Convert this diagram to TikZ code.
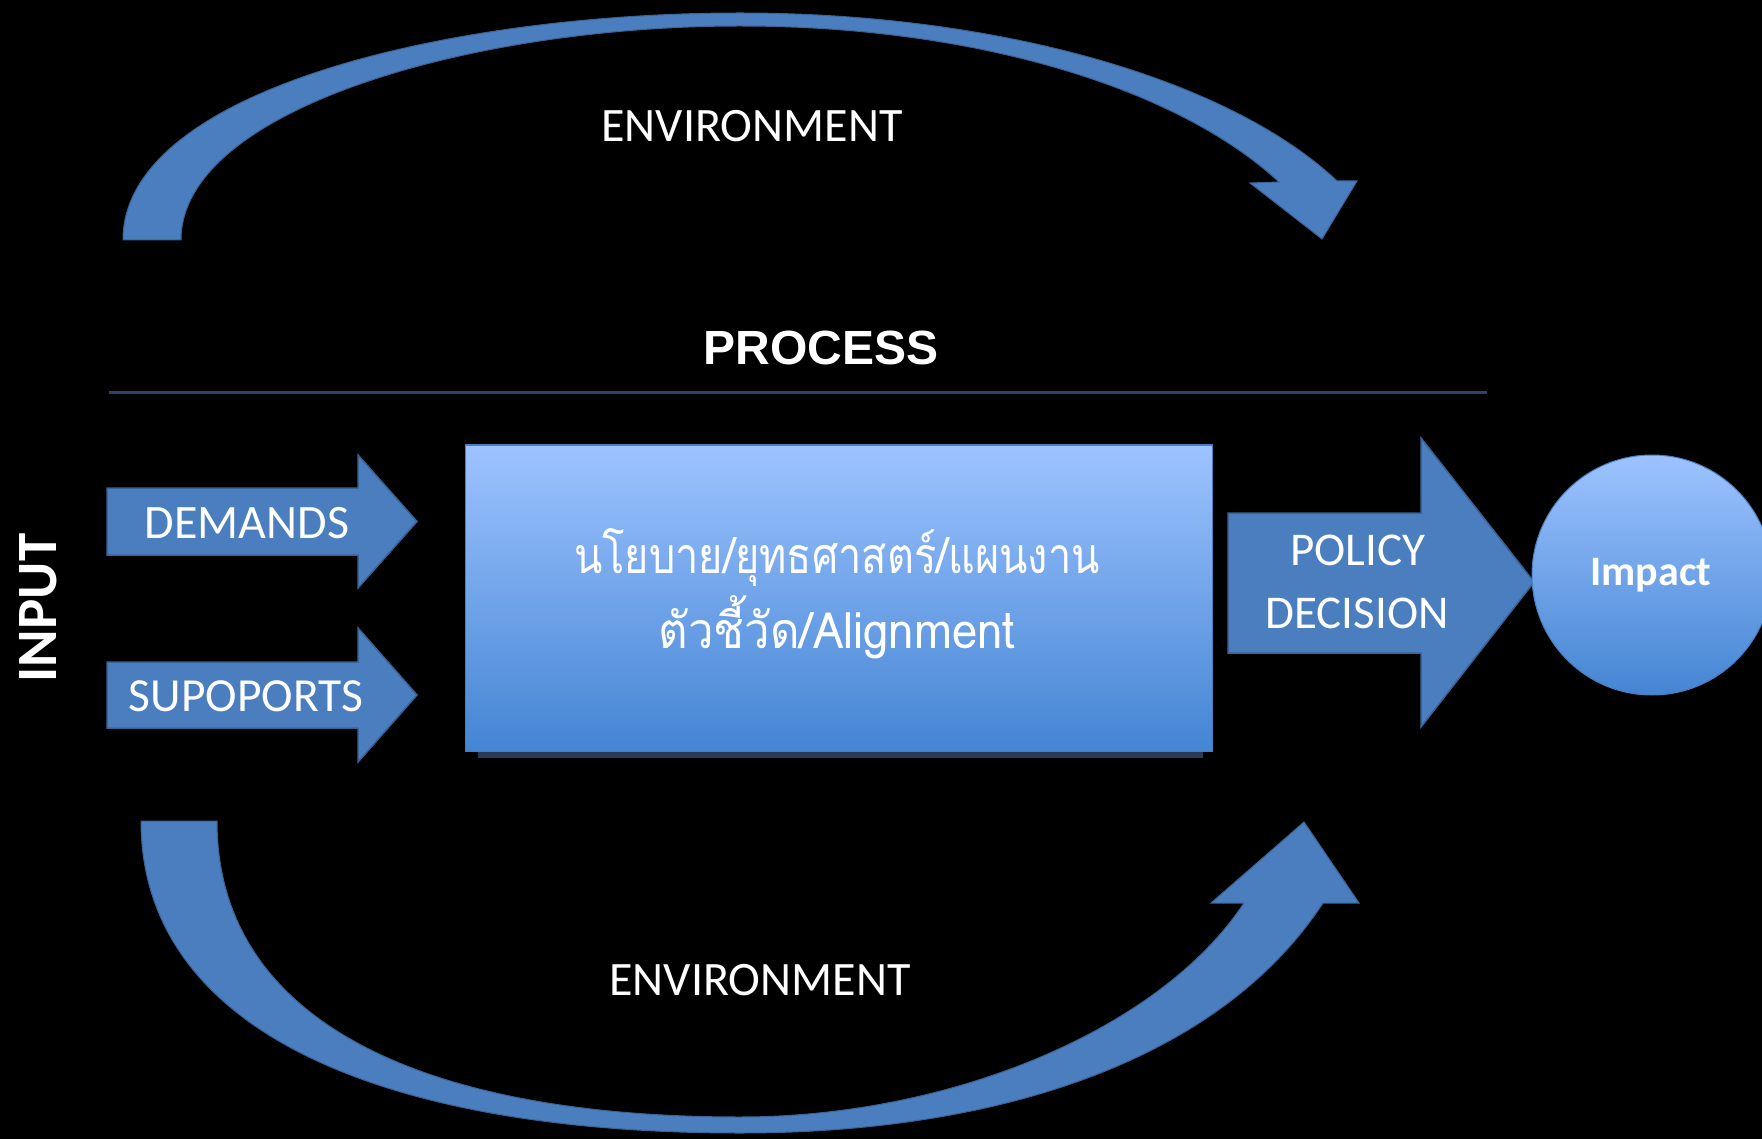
\documentclass[tikz,border=0pt]{standalone}
\usepackage{fontspec}
\newfontfamily\calfont{Carlito}
\newfontfamily\arfont{Liberation Sans}
\newfontfamily\thaifont[Script=Thai]{Loma}
\definecolor{arrowblue}{HTML}{4A7EBE}
\definecolor{arrowedge}{HTML}{3A6496}
\definecolor{boxtop}{HTML}{9DC3FF}
\definecolor{boxbot}{HTML}{4485D3}
\definecolor{sepcol}{HTML}{2E4466}
\definecolor{shadowcol}{HTML}{2A3A56}
\tikzset{
  blk/.style={fill=arrowblue, draw=arrowedge, line width=1.5pt, line join=miter},
  arcshape/.style={fill=arrowblue, draw=arrowedge, line width=1pt, line join=miter},
  lbl/.style={text=white, inner sep=0pt, font=\calfont\fontsize{48}{52}\selectfont},
  thaitxt/.style={text=white, inner sep=0pt, anchor=base, font=\thaifont\fontsize{50}{56}\selectfont},
}
\begin{document}
\begin{tikzpicture}[x=1pt,y=-1pt]
\fill[black] (0,0) rectangle (1762,1139);
\useasboundingbox (0,0) rectangle (1762,1139);
\clip (0,0) rectangle (1762,1139);

% top environment arrow
\path[arcshape] (123,240) .. controls (123,90) and (450,13) .. (740,13)
  .. controls (1000,13) and (1230,80) .. (1337,181)
  -- (1357,181) -- (1322,239) -- (1250,183) -- (1279,182)
  .. controls (1180,90) and (980,26) .. (740,26)
  .. controls (470,26) and (181,110) .. (181,240) -- cycle;

% bottom environment arrow
\path[arcshape] (141,821) .. controls (141,1030) and (380,1133) .. (740,1133)
  .. controls (1000,1133) and (1220,1060) .. (1323,903)
  -- (1359,903) -- (1304,822) -- (1211,903) -- (1244,903)
  .. controls (1160,1030) and (950,1117) .. (740,1117)
  .. controls (420,1117) and (217,1020) .. (217,821) -- cycle;

\node[lbl] (envtop) at (752,126) {ENVIRONMENT};
\node[lbl] (envbot) at (760,980) {ENVIRONMENT};

% process
\node[text=white, inner sep=0pt, font=\arfont\bfseries\fontsize{48}{52}\selectfont] (process) at (821,348) {PROCESS};
\coordinate (sepL) at (109,393);
\coordinate (sepR) at (1487,393);
\draw[sepcol, line width=3pt] (sepL) -- (sepR);

% input
\node[text=white, inner sep=0pt, rotate=90, font=\calfont\bfseries\fontsize{57}{60}\selectfont] (input) at (38,608) {INPUT};

% demand / supports arrows
\path[blk] (107,488) -- (358,488) -- (358,455) -- (417,521.5) -- (358,588) -- (358,555) -- (107,555) -- cycle;
\path[blk] (107,662) -- (358,662) -- (358,628) -- (417,695) -- (358,762) -- (358,728) -- (107,728) -- cycle;
\node[lbl] (demands) at (247,523) {DEMANDS};
\node[lbl, font=\calfont\fontsize{47.5}{52}\selectfont] (supports) at (246,696) {SUPOPORTS};

% main box
\fill[shadowcol] (478,751) rectangle (1203,758);
\node[draw=arrowblue, line width=1pt, top color=boxtop, bottom color=boxbot, minimum width=747pt, minimum height=306pt, inner sep=0pt] (box) at (838.5,598) {};
\node[thaitxt] (thai1) at (837,573) {\scalebox{0.83}[1]{นโยบาย/ยุทธศาสตร์/แผนงาน}};
\node[thaitxt] (thai2) at (837,648) {\scalebox{0.91}[1]{ตัวชี้วัด/Alignment}};

% policy decision arrow
\path[blk] (1228,513) -- (1421,513) -- (1421,438) -- (1534,582) -- (1421,727) -- (1421,653) -- (1228,653) -- cycle;
\node[lbl, font=\calfont\fontsize{47}{52}\selectfont] (policy) at (1358,550) {POLICY};
\node[lbl, font=\calfont\fontsize{47}{52}\selectfont] (decision) at (1357,613) {DECISION};

% impact circle
\node[circle, draw=arrowblue, line width=1pt, top color=boxtop, bottom color=boxbot, minimum size=240pt, inner sep=0pt] (impactc) at (1652,575) {};
\node[text=white, inner sep=0pt, font=\calfont\bfseries\fontsize{42}{46}\selectfont] (impact) at (1651,575) {Impact};
\end{tikzpicture}
\end{document}
